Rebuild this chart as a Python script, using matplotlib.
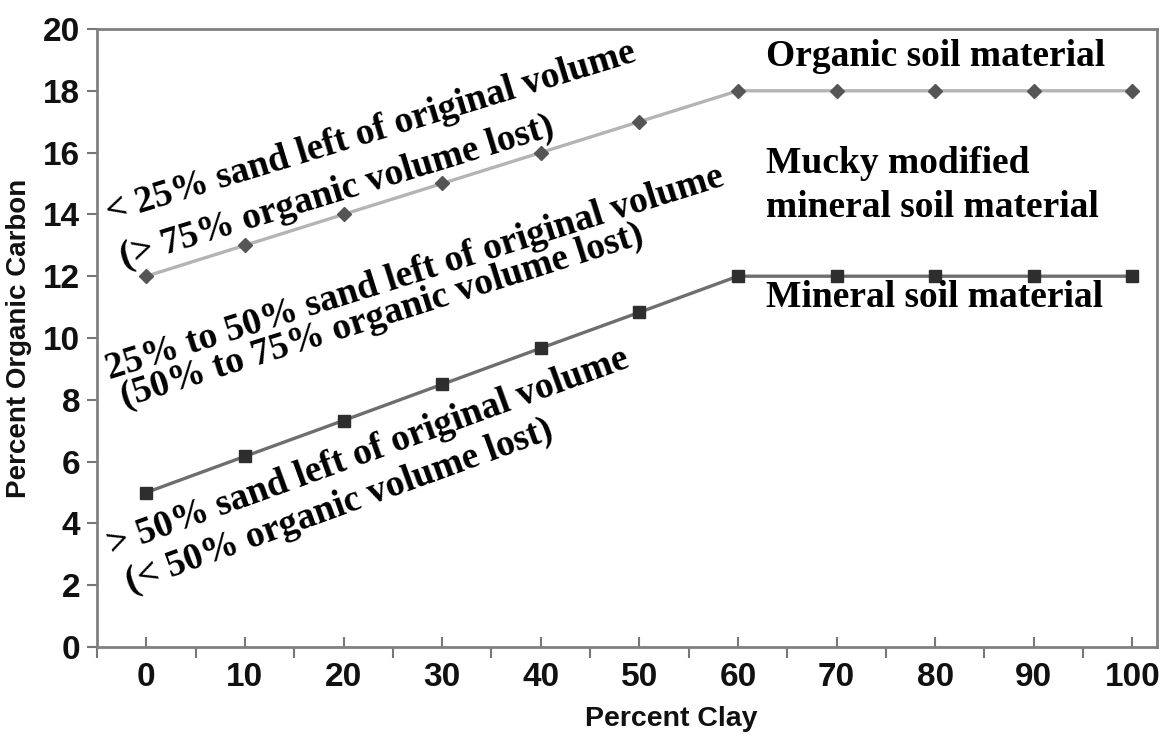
import matplotlib.pyplot as plt
import numpy as np

# data
clay = [0, 10, 20, 30, 40, 50, 60, 70, 80, 90, 100]
organic_upper = [12, 13, 14, 15, 16, 17, 18, 18, 18, 18, 18]
mineral_upper = [5, 6.17, 7.33, 8.5, 9.67, 10.83, 12, 12, 12, 12, 12]
x_ticks = [0, 10, 20, 30, 40, 50, 60, 70, 80, 90, 100]
y_ticks = [0, 2, 4, 6, 8, 10, 12, 14, 16, 18, 20]

serif = ['Liberation Serif', 'DejaVu Serif']
sans = ['Liberation Sans', 'DejaVu Sans']

fig = plt.figure(figsize=(11.6, 7.37), dpi=100)
ax = fig.add_axes([97/1160, 90/737, 1060/1160, 618/737])

ax.plot(clay, organic_upper, color='#b4b4b4', lw=2.4, marker='D', ms=7.5,
        mfc='#555555', mec='#555555', zorder=3)
ax.plot(clay, mineral_upper, color='#6e6e6e', lw=2.4, marker='s', ms=9,
        mfc='#2e2e2e', mec='#2e2e2e', zorder=3)

ax.set_xlim(-5, 102.5)
ax.set_ylim(0, 20)
ax.set_xticks(x_ticks)
ax.set_xticks(np.arange(-5, 100, 10), minor=True)
ax.set_yticks(y_ticks)
ax.set_xticklabels([str(v) for v in x_ticks], fontsize=24, fontweight='bold',
                   family=sans, color='#111111')
ax.set_yticklabels([str(v) for v in y_ticks], fontsize=24, fontweight='bold',
                   family=sans, color='#111111')
ax.tick_params(axis='x', which='major', direction='in', length=7, width=1.5,
               color='#777777', pad=11)
ax.tick_params(axis='x', which='minor', direction='out', length=8, width=1.5,
               color='#777777')
ax.tick_params(axis='y', direction='out', length=7, width=1.5, color='#777777', pad=5)
for s in ax.spines.values():
    s.set_color('#808080')
    s.set_linewidth(2)

ax.set_xlabel('Percent Clay', fontsize=20.5, fontweight='bold', family=sans,
              color='#111111')
ax.xaxis.set_label_coords(0.5415, -0.095)
ax.set_ylabel('Percent Organic Carbon', fontsize=20, fontweight='bold', family=sans,
              color='#111111')
ax.yaxis.set_label_coords(-0.0613, 0.5)

# right side labels
tkw = dict(fontsize=27, fontweight='bold', family=serif, color='black')
ax.text(62.8, 18.8, 'Organic soil material', ha='left', va='baseline', **tkw)
ax.text(62.8, 15.34, 'Mucky modified', ha='left', va='baseline', **tkw)
ax.text(62.8, 13.92, 'mineral soil material', ha='left', va='baseline', **tkw)
ax.text(62.8, 11.0, 'Mineral soil material', ha='left', va='baseline', **tkw)

# rotated annotations
rkw = dict(ha='left', va='baseline', rotation_mode='anchor', **tkw)
ax.text(-3.75, 13.75, '< 25% sand left of original volume', rotation=17, **rkw)
ax.text(-2.33, 12.3, '(> 75% organic volume lost)', rotation=17, **rkw)
ax.text(-3.75, 8.65, '25% to 50% sand left of original volume', rotation=17.5, **rkw)
ax.text(-2.23, 7.75, '(50% to 75% organic volume lost)', rotation=17.5, **rkw)
ax.text(-3.44, 2.95, '> 50% sand left of original volume', rotation=20, **rkw)
ax.text(-1.6, 1.78, '(< 50% organic volume lost)', rotation=20, **rkw)

fig.savefig('out.png', dpi=100)
